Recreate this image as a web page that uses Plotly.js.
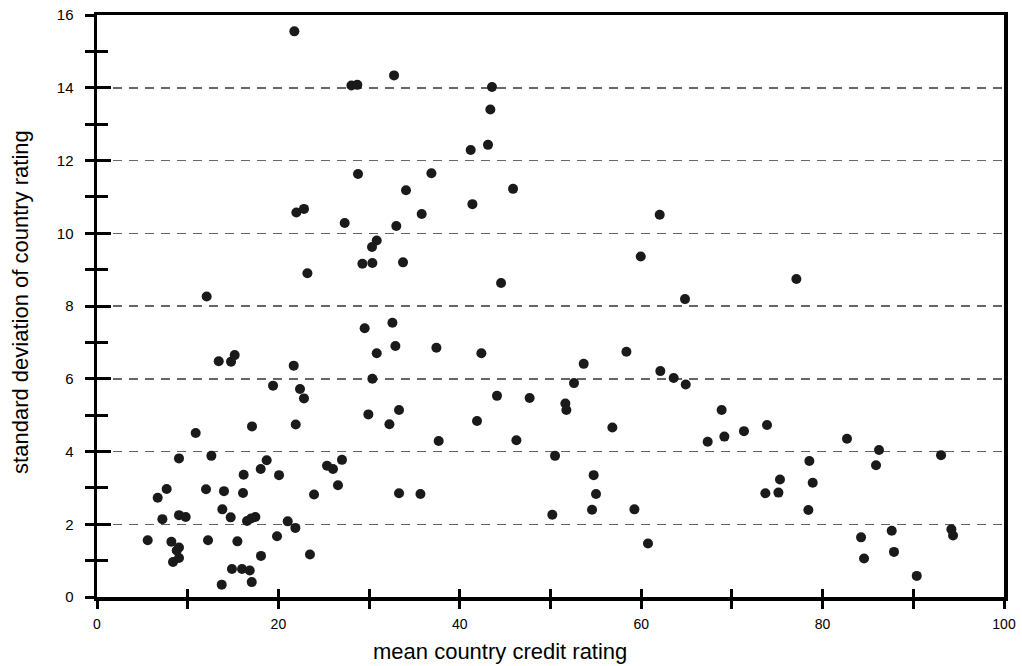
<!DOCTYPE html>
<html>
<head>
<meta charset="utf-8">
<script src="https://cdn.plot.ly/plotly-3.0.1.min.js"></script>
<style>html,body{margin:0;padding:0;background:#fff;}#chart{width:1022px;height:666px;}</style>
</head>
<body>
<div id="chart"></div>
<script>
const meanRating = [
  21.76, 32.75, 28.05, 28.7, 28.78, 21.98, 22.82, 27.31, 33.0, 30.84,
  30.32, 29.26, 30.36, 33.74, 23.2, 12.09, 43.55, 43.37, 41.2, 43.11,
  36.87, 34.07, 45.87, 41.39, 35.8, 62.04, 59.95, 44.55, 64.83, 77.11,
  29.51, 32.57, 32.9, 30.84, 30.36, 29.92, 33.3, 32.24, 13.42, 14.78,
  15.18, 21.69, 19.41, 22.38, 22.82, 10.88, 17.09, 21.91, 9.04, 12.61,
  18.71, 18.05, 16.17, 20.07, 25.36, 26.02, 27.01, 26.57, 23.93, 33.3,
  7.68, 6.69, 12.02, 14.0, 16.1, 7.21, 9.04, 9.78, 13.82, 14.74,
  16.54, 16.98, 17.46, 21.03, 21.87, 19.85, 5.59, 8.2, 12.24, 15.48,
  9.04, 8.79, 9.04, 8.38, 18.08, 23.48, 14.88, 15.99, 16.84, 13.75,
  17.06, 37.42, 42.38, 53.66, 58.37, 62.11, 63.58, 64.91, 52.59, 44.1,
  47.7, 51.64, 51.75, 41.9, 56.82, 37.67, 46.24, 50.5, 54.76, 55.02,
  54.58, 59.25, 35.66, 50.2, 60.75, 68.87, 67.33, 69.17, 71.33, 73.87,
  82.69, 86.22, 85.89, 93.06, 78.54, 75.3, 78.91, 73.69, 75.13, 78.43,
  84.24, 87.62, 84.57, 87.87, 90.38, 94.2, 94.38
];
const stdRating = [
  15.55, 14.34, 14.06, 14.08, 11.63, 10.57, 10.67, 10.28, 10.2, 9.8,
  9.62, 9.16, 9.18, 9.2, 8.9, 8.26, 14.02, 13.4, 12.29, 12.43,
  11.65, 11.18, 11.22, 10.8, 10.53, 10.51, 9.36, 8.63, 8.19, 8.74,
  7.39, 7.54, 6.9, 6.7, 6.0, 5.02, 5.14, 4.75, 6.48, 6.47,
  6.65, 6.36, 5.81, 5.72, 5.46, 4.51, 4.69, 4.74, 3.81, 3.88,
  3.76, 3.52, 3.36, 3.35, 3.61, 3.52, 3.77, 3.07, 2.82, 2.85,
  2.97, 2.73, 2.96, 2.91, 2.86, 2.14, 2.25, 2.2, 2.41, 2.19,
  2.09, 2.16, 2.2, 2.08, 1.9, 1.67, 1.56, 1.52, 1.56, 1.53,
  1.36, 1.28, 1.07, 0.96, 1.13, 1.17, 0.77, 0.77, 0.73, 0.34,
  0.41, 6.85, 6.7, 6.41, 6.74, 6.21, 6.02, 5.84, 5.88, 5.53,
  5.47, 5.32, 5.14, 4.84, 4.66, 4.29, 4.31, 3.88, 3.35, 2.83,
  2.4, 2.41, 2.83, 2.26, 1.47, 5.14, 4.27, 4.41, 4.56, 4.73,
  4.35, 4.04, 3.62, 3.9, 3.74, 3.23, 3.14, 2.85, 2.87, 2.39,
  1.64, 1.82, 1.06, 1.24, 0.58, 1.86, 1.69
];
const xTickVals = [0, 20, 40, 60, 80, 100];
const yTickVals = [0, 2, 4, 6, 8, 10, 12, 14, 16];
const xTitle = 'mean country credit rating';
const yTitle = 'standard deviation of country rating';

const FONT = 'Liberation Sans, Arial, sans-serif';

const traces = [
  {
    type: 'scatter', mode: 'markers',
    x: meanRating, y: stdRating,
    marker: {symbol: 'circle', size: 10, color: '#1a1a1a', line: {width: 0}},
    xaxis: 'x', yaxis: 'y', hoverinfo: 'x+y'
  },
  {
    type: 'scatter', mode: 'markers', x: [], y: [],
    xaxis: 'x2', yaxis: 'y2', showlegend: false, hoverinfo: 'skip'
  }
];

const baseX = {
  range: [0, 100], tickmode: 'array', tickvals: xTickVals,
  showgrid: false, zeroline: false
};
const baseY = {
  range: [0, 16], tickmode: 'array', tickvals: yTickVals, zeroline: false
};

const layout = {
  width: 1022, height: 666,
  margin: {l: 97, r: 18, t: 15, b: 69, pad: 0},
  paper_bgcolor: '#ffffff', plot_bgcolor: '#ffffff',
  showlegend: false,
  font: {family: FONT, color: '#000', size: 14},
  xaxis: Object.assign({}, baseX, {
    ticks: 'outside', ticklen: 8, tickwidth: 3, tickcolor: '#000',
    minor: {dtick: 10, ticks: 'outside', ticklen: 8, tickwidth: 3, tickcolor: '#000', showgrid: false},
    showline: true, linewidth: 3.5, linecolor: '#000', mirror: true,
    tickfont: {family: FONT, size: 14, color: '#000'},
    ticklabelstandoff: 4,
    automargin: false
  }),
  yaxis: Object.assign({}, baseY, {
    ticks: 'outside', ticklen: 9, tickwidth: 3, tickcolor: '#000',
    minor: {dtick: 1, ticks: 'outside', ticklen: 9, tickwidth: 3, tickcolor: '#000', showgrid: false},
    showline: true, linewidth: 3.5, linecolor: '#000', mirror: true,
    showgrid: true, gridcolor: '#666666', gridwidth: 1.5, griddash: '9px,7px',
    tickfont: {family: FONT, size: 15, color: '#000'},
    ticklabelstandoff: 8,
    automargin: false
  }),
  xaxis2: Object.assign({}, baseX, {
    overlaying: 'x', anchor: 'y2', side: 'bottom',
    ticks: 'inside', ticklen: 8, tickwidth: 3, tickcolor: '#000',
    minor: {dtick: 10, ticks: 'inside', ticklen: 8, tickwidth: 3, tickcolor: '#000', showgrid: false},
    showticklabels: false, showline: false
  }),
  yaxis2: Object.assign({}, baseY, {
    overlaying: 'y', anchor: 'x2', side: 'left', showgrid: false,
    ticks: 'inside', ticklen: 14, tickwidth: 3, tickcolor: '#000',
    minor: {dtick: 1, ticks: 'inside', ticklen: 11, tickwidth: 3, tickcolor: '#000', showgrid: false},
    showticklabels: false, showline: false
  }),
  annotations: [
    {
      text: xTitle, xref: 'paper', yref: 'paper', x: 0.444, y: -0.093,
      xanchor: 'center', yanchor: 'middle', showarrow: false,
      font: {family: FONT, size: 22, color: '#000'}
    },
    {
      text: yTitle, xref: 'paper', yref: 'paper', x: -0.0838, y: 0.507,
      xanchor: 'center', yanchor: 'middle', textangle: -90, showarrow: false,
      font: {family: FONT, size: 22, color: '#000'}
    }
  ]
};

Plotly.newPlot('chart', traces, layout, {staticPlot: true, displayModeBar: false});
</script>
</body>
</html>
